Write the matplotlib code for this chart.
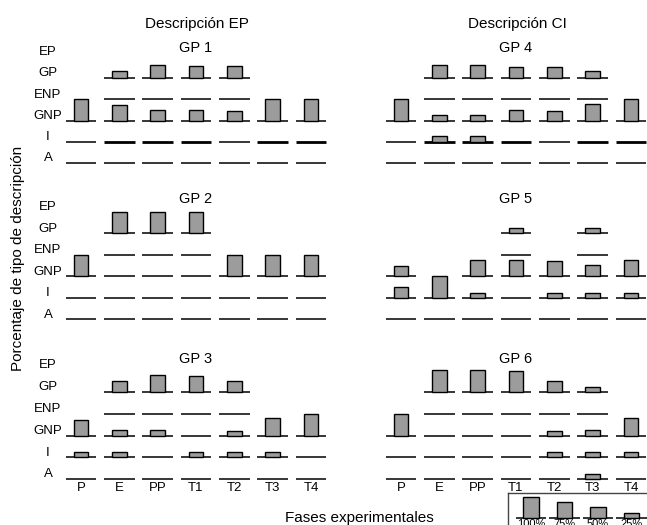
import numpy as np
import matplotlib
matplotlib.use("Agg")
import matplotlib.pyplot as plt

plt.rcParams['font.family'] = ['Liberation Sans', 'DejaVu Sans']

nan = np.nan

# fases y tipos de descripcion
fases = ["P", "E", "PP", "T1", "T2", "T3", "T4"]
tipos = ["EP", "GP", "ENP", "GNP", "I", "A"]

# porcentajes por grupo (filas = tipos, columnas = fases); nan = sin registro
gp1 = [[nan, nan, nan, nan, nan, nan, nan],
       [nan, 33, 62, 58, 58, nan, nan],
       [nan, 0, 0, 0, 0, nan, nan],
       [100, 75, 50, 50, 45, 100, 100],
       [0, 0, 0, 0, 0, 0, 0],
       [0, 0, 0, 0, 0, 0, 0]]

gp2 = [[nan, nan, nan, nan, nan, nan, nan],
       [nan, 100, 100, 98, nan, nan, nan],
       [nan, 0, 0, 0, nan, nan, nan],
       [98, 0, 0, 0, 98, 100, 100],
       [0, 0, 0, 0, 0, 0, 0],
       [0, 0, 0, 0, 0, 0, 0]]

gp3 = [[nan, nan, nan, nan, nan, nan, nan],
       [nan, 50, 75, 73, 50, nan, nan],
       [nan, 0, 0, 0, 0, nan, nan],
       [70, 26, 26, 0, 20, 78, 100],
       [26, 26, 0, 26, 26, 26, 0],
       [0, 0, 0, 0, 0, 0, 0]]

gp4 = [[nan, nan, nan, nan, nan, nan, nan],
       [nan, 59, 59, 54, 54, 34, nan],
       [nan, 0, 0, 0, 0, 0, nan],
       [100, 26, 26, 51, 46, 78, 100],
       [0, 29, 29, 0, 0, 0, 0],
       [0, 0, 0, 0, 0, 0, 0]]

gp5 = [[nan, nan, nan, nan, nan, nan, nan],
       [nan, nan, nan, 23, nan, 23, nan],
       [nan, nan, nan, 0, nan, 0, nan],
       [47, nan, 78, 78, 73, 52, 78],
       [51, 100, 23, 0, 23, 23, 23],
       [0, 0, 0, 0, 0, 0, 0]]

gp6 = [[nan, nan, nan, nan, nan, nan, nan],
       [nan, 98, 98, 93, 50, 23, nan],
       [nan, 0, 0, 0, 0, 0, nan],
       [98, 0, 0, 0, 20, 26, 78],
       [0, 0, 0, 0, 26, 26, 26],
       [0, 0, 0, 0, 0, 25, 0]]

# fases con linea I remarcada (GP 1 y GP 4)
i_remarcada_gp1 = [False, True, True, True, False, True, True]
i_remarcada_gp4 = [False, True, True, True, False, True, True]

leyenda_vals = [100, 75, 50, 25]
leyenda_labels = ["100%", "75%", "50%", "25%"]

W, H = 647, 525
GRIS = "#9c9c9c"
fig = plt.figure(figsize=(W / 100, H / 100), dpi=100)


def px_axes(left, top, width, height):
    return fig.add_axes([left / W, 1 - (top + height) / H, width / W, height / H])


def panel(data, x0, a_px, sp, title, title_y, row_labels, tick_labels,
          remarcada=None):
    col = 38.33
    ax = px_axes(x0 - 0.5 * col, a_px - 6 * sp, 7 * col, 7 * sp)
    ax.set_xlim(-0.5, 6.5)
    ax.set_ylim(-1, 6)
    ax.axis("off")
    for idx, fila in enumerate(data):
        k = len(tipos) - 1 - idx
        for j, v in enumerate(fila):
            if np.isnan(v):
                continue
            lw = 1.1
            if remarcada is not None and tipos[idx] == "I" and remarcada[j]:
                lw = 2.0
            ax.hlines(k, j - 0.4, j + 0.4, color="black", lw=lw, zorder=2)
            if v > 0:
                ax.bar(j, v / 100, bottom=k, width=0.38, color=GRIS,
                       edgecolor="black", lw=1, zorder=3)
    ax.text(3, title_y, title, ha="center", va="center", fontsize=10.5)
    if row_labels:
        for idx, t in enumerate(tipos):
            ax.text(-0.86, len(tipos) - 1 - idx + 0.22, t, ha="center",
                    va="center", fontsize=9.5)
    if tick_labels:
        for j, f in enumerate(fases):
            ax.text(j, -0.38, f, ha="center", va="center", fontsize=9.5)
    return ax


a_pix = [163, 319.3, 479.3]
spacing = [21.25, 21.5, 21.9]
title_pos = [5.4, 5.6, 5.5]
izq = [gp1, gp2, gp3]
der = [gp4, gp5, gp6]
rem_izq = [i_remarcada_gp1, None, None]
rem_der = [i_remarcada_gp4, None, None]
for r in range(3):
    panel(izq[r], 81, a_pix[r], spacing[r], "GP %d" % (r + 1), title_pos[r],
          True, r == 2, rem_izq[r])
    panel(der[r], 401, a_pix[r], spacing[r], "GP %d" % (r + 4), title_pos[r],
          False, r == 2, rem_der[r])

fig.text(197 / W, 1 - 24 / H, "Descripción EP", ha="center", va="center",
         fontsize=11)
fig.text(517 / W, 1 - 24 / H, "Descripción CI", ha="center", va="center",
         fontsize=11)
fig.text(359 / W, 1 - 518 / H, "Fases experimentales", ha="center",
         va="center", fontsize=11)
fig.text(18 / W, 1 - 258 / H, "Porcentaje de tipo de descripción",
         ha="center", va="center", rotation=90, fontsize=11)

# leyenda de escala
lc = 33.5
lsp = 21.0
lg = px_axes(531 - 0.7 * lc, 493, 4.4 * lc, 2.5 * lsp)
lg.set_xlim(-0.7, 3.7)
lg.set_ylim(-1.31, 1.19)
lg.set_xticks([])
lg.set_yticks([])
for s in lg.spines.values():
    s.set_color("#444444")
    s.set_linewidth(1)
for j, v in enumerate(leyenda_vals):
    lg.hlines(0, j - 0.45, j + 0.45, color="black", lw=1.1, zorder=2)
    lg.bar(j, v / 100, width=0.46, color=GRIS, edgecolor="black", lw=1,
           zorder=3)
    lg.text(j, -0.3, leyenda_labels[j], ha="center", va="center", fontsize=8)

fig.savefig("out.png", dpi=100)
